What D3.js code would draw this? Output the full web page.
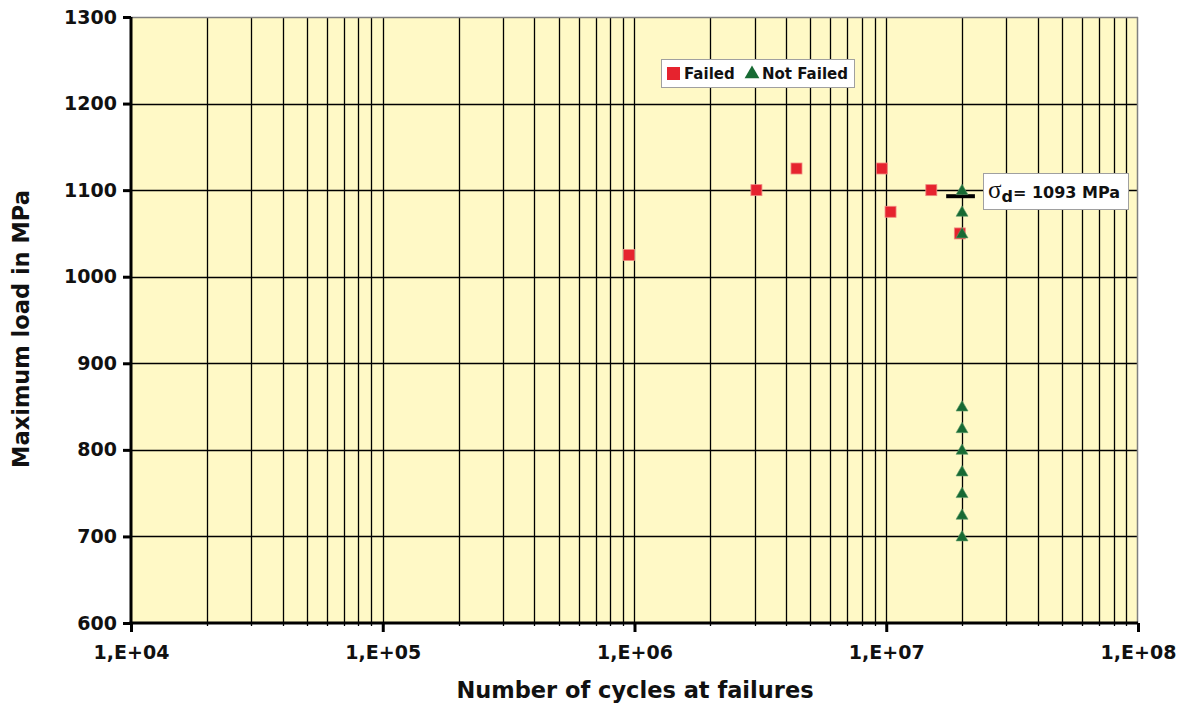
<!DOCTYPE html>
<html>
<head>
<meta charset="utf-8">
<script src="https://cdn.jsdelivr.net/npm/d3@7"></script>
<style>
  html, body { margin: 0; padding: 0; background: #ffffff; }
  svg { display: block; font-family: "DejaVu Sans", Verdana, sans-serif; }
</style>
</head>
<body>
<svg id="chart" width="1192" height="708"></svg>
<script>
// Fatigue test results: specimens that failed and run-outs (not failed)
const failedCycles = [9.5e5, 3.05e6, 4.4e6, 9.6e6, 1.04e7, 1.51e7, 1.96e7];
const failedLoads  = [1025, 1100, 1125, 1125, 1075, 1100, 1050];

const runoutCycles = [2.0e7, 2.0e7, 2.0e7, 2.0e7, 2.0e7, 2.0e7, 2.0e7, 2.0e7, 2.0e7, 2.0e7];
const runoutLoads  = [1100, 1075, 1050, 850, 825, 800, 775, 750, 725, 700];

// Endurance limit marker
const sigmaD = 1093;
const sigmaDCycles = [1.73e7, 2.25e7];

const xTicks = [1e4, 1e5, 1e6, 1e7, 1e8];
const xTickLabels = ["1,E+04", "1,E+05", "1,E+06", "1,E+07", "1,E+08"];
const yTicks = [600, 700, 800, 900, 1000, 1100, 1200, 1300];

const svg = d3.select("#chart");
const pL = 131, pR = 1138, pT = 17, pB = 623;

const x = d3.scaleLog().domain([1e4, 1e8]).range([pL, pR]);
const y = d3.scaleLinear().domain([600, 1300]).range([pB, pT]);

// plot background
svg.append("rect")
  .attr("x", pL).attr("y", pT)
  .attr("width", pR - pL).attr("height", pB - pT)
  .attr("fill", "#FFF9C6");

// vertical grid lines at every 1..9 x 10^n
const gridX = [];
for (let e = 4; e < 8; e++) {
  for (let m = 1; m <= 9; m++) gridX.push(m * Math.pow(10, e));
}
svg.append("g").selectAll("line").data(gridX.filter(v => v > 1e4)).join("line")
  .attr("x1", d => Math.round(x(d)) + 0.5).attr("x2", d => Math.round(x(d)) + 0.5)
  .attr("y1", pT).attr("y2", pB + 3)
  .attr("stroke", "#000").attr("stroke-width", 1.3);

// horizontal grid lines
svg.append("g").selectAll("line").data(yTicks.filter(v => v > 600 && v < 1300)).join("line")
  .attr("x1", pL).attr("x2", pR)
  .attr("y1", d => Math.round(y(d)) + 0.5).attr("y2", d => Math.round(y(d)) + 0.5)
  .attr("stroke", "#000").attr("stroke-width", 1.3);

// top and right frame
svg.append("line").attr("x1", pL).attr("x2", pR).attr("y1", pT + 0.5).attr("y2", pT + 0.5)
  .attr("stroke", "#808080").attr("stroke-width", 1.5);
svg.append("line").attr("x1", pR - 0.5).attr("x2", pR - 0.5).attr("y1", pT).attr("y2", pB)
  .attr("stroke", "#808080").attr("stroke-width", 1.5);

// y axis
const yAxis = d3.axisLeft(y).tickValues(yTicks).tickSize(8).tickPadding(6).tickFormat(d3.format("d"));
const gy = svg.append("g").attr("transform", `translate(${pL},0)`).call(yAxis);
gy.select(".domain").attr("stroke", "#000").attr("stroke-width", 3).attr("d", `M0,${pT}V${pB + 1.5}`);
gy.selectAll(".tick line").attr("stroke", "#000").attr("stroke-width", 3);
gy.selectAll(".tick text").attr("font-size", 19).attr("font-weight", "bold")
  .attr("font-family", "DejaVu Sans, Verdana, sans-serif").attr("fill", "#111");

// x axis
const xAxis = d3.axisBottom(x).tickValues(xTicks).tickSize(9).tickPadding(14)
  .tickFormat((d, i) => xTickLabels[i]);
const gx = svg.append("g").attr("transform", `translate(0,${pB})`).call(xAxis);
gx.select(".domain").attr("stroke", "#000").attr("stroke-width", 3).attr("d", `M${pL - 1.5},0H${pR}`);
gx.selectAll(".tick line").attr("stroke", "#000").attr("stroke-width", 3);
gx.selectAll(".tick text").attr("font-size", 19).attr("font-weight", "bold")
  .attr("font-family", "DejaVu Sans, Verdana, sans-serif").attr("fill", "#111");

// axis titles
svg.append("text")
  .attr("x", 635).attr("y", 698)
  .attr("text-anchor", "middle").attr("font-size", 22.5).attr("font-weight", "bold").attr("fill", "#111")
  .text("Number of cycles at failures");
svg.append("text")
  .attr("transform", `translate(29,329) rotate(-90)`)
  .attr("text-anchor", "middle").attr("font-size", 22.5).attr("font-weight", "bold").attr("fill", "#111")
  .text("Maximum load in MPa");

// failed specimens (squares)
const sq = 11;
svg.append("g").selectAll("rect").data(failedCycles.map((c, i) => [c, failedLoads[i]])).join("rect")
  .attr("x", d => x(d[0]) - sq / 2).attr("y", d => y(d[1]) - sq / 2)
  .attr("width", sq).attr("height", sq)
  .attr("fill", "#E6232E").attr("stroke", "#F08A80").attr("stroke-width", 0.8);

// endurance limit bar
svg.append("line")
  .attr("x1", x(sigmaDCycles[0])).attr("x2", x(sigmaDCycles[1]))
  .attr("y1", y(sigmaD)).attr("y2", y(sigmaD))
  .attr("stroke", "#000").attr("stroke-width", 4);

// run-outs (triangles)
const tri = d3.symbol().type(d3.symbolTriangle).size(62);
svg.append("g").selectAll("path").data(runoutCycles.map((c, i) => [c, runoutLoads[i]])).join("path")
  .attr("d", tri)
  .attr("transform", d => `translate(${x(d[0])},${y(d[1]) + 1})`)
  .attr("fill", "#176A33").attr("stroke", "#5E9A6A").attr("stroke-width", 0.6);

// legend
const lg = svg.append("g").attr("transform", "translate(661,59)");
lg.append("rect").attr("x", 0.5).attr("y", 0.5).attr("width", 193).attr("height", 28)
  .attr("fill", "#fff").attr("stroke", "#a0a0a0").attr("stroke-width", 1);
lg.append("rect").attr("x", 6).attr("y", 8).attr("width", 13).attr("height", 13).attr("fill", "#E6232E");
lg.append("text").attr("x", 23).attr("y", 20).attr("font-size", 15).attr("font-weight", "bold").attr("fill", "#111").text("Failed");
lg.append("path").attr("d", d3.symbol().type(d3.symbolTriangle).size(95))
  .attr("transform", "translate(91,15)").attr("fill", "#176A33");
lg.append("text").attr("x", 101).attr("y", 20).attr("font-size", 15).attr("font-weight", "bold").attr("fill", "#111").text("Not Failed");

// endurance limit label
const lb = svg.append("g").attr("transform", "translate(983,173)");
lb.append("rect").attr("x", 0.5).attr("y", 0.5).attr("width", 145).attr("height", 36)
  .attr("fill", "#fff").attr("stroke", "#a0a0a0").attr("stroke-width", 1);
const t = lb.append("text").attr("x", 5).attr("y", 25).attr("fill", "#111");
t.append("tspan").attr("font-family", "Liberation Serif, Times New Roman, serif").attr("font-size", 25).text("σ");
t.append("tspan").attr("font-size", 16).attr("font-weight", "bold").attr("dy", 4).text("d");
t.append("tspan").attr("font-size", 16).attr("font-weight", "bold").attr("dy", -4).text("= 1093 MPa");
</script>
</body>
</html>
